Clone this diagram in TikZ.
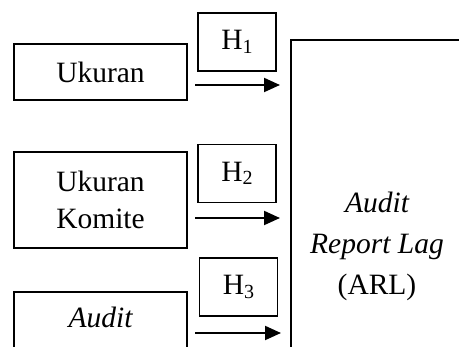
\documentclass[tikz,border=0pt]{standalone}
\usepackage{fontspec}
\setmainfont{Liberation Serif}
\usetikzlibrary{arrows.meta}
\newcommand{\hsubtxt}[1]{H\raisebox{-3.5pt}{\fontsize{20}{20}\selectfont #1}}
\begin{document}
\begin{tikzpicture}[x=1pt,y=-1pt,
  every node/.style={inner sep=0pt,outer sep=0pt},
  varbox/.style={draw,line width=1.8pt,minimum width=173pt,align=center,
    font=\fontsize{29.5}{37}\selectfont},
  hbox/.style={draw,line width=1.8pt,minimum width=78pt,minimum height=58pt,
    font=\fontsize{29.5}{37}\selectfont},
  link/.style={line width=2pt,-{Triangle[length=16pt,width=14pt]}},
  plain/.style={line width=1.8pt}]
\useasboundingbox (0,0) rectangle (459,347);
\clip (0,0) rectangle (459,347);
% independent variable boxes
\node[varbox,minimum height=56pt] (uk) at (100.5,72) {Ukuran};
\node[varbox,minimum height=96pt] (ukk) at (100.5,200) {Ukuran\\Komite};
\node[varbox,minimum height=80pt,anchor=north] (aud) at (100.5,292) {};
\node[font=\fontsize{29.5}{37}\selectfont\itshape,anchor=base] (audt) at (100.5,328) {Audit};
% hypothesis boxes
\node[hbox] (h1) at (237,42) {\hsubtxt{1}};
\node[hbox] (h2) at (237,173.5) {\hsubtxt{2}};
\node[hbox] (h3) at (238.5,287) {\hsubtxt{3}};
% dependent variable box (partly outside the frame)
\coordinate (dtl) at (291,40);
\coordinate (dbl) at (291,360);
\coordinate (dtr) at (470,40);
\draw[plain] (dbl) -- (dtl) -- (dtr);
\node[font=\fontsize{29.5}{41}\selectfont,align=center,anchor=base] (dep) at (377,295)
  {\itshape Audit\\\itshape Report Lag\\(ARL)};
% arrows
\coordinate (a1s) at (195,85);  \coordinate (a1e) at (280,85);
\coordinate (a2s) at (195,218); \coordinate (a2e) at (280,218);
\coordinate (a3s) at (195,333); \coordinate (a3e) at (281,333);
\draw[link] (a1s) -- (a1e);
\draw[link] (a2s) -- (a2e);
\draw[link] (a3s) -- (a3e);
\end{tikzpicture}
\end{document}
